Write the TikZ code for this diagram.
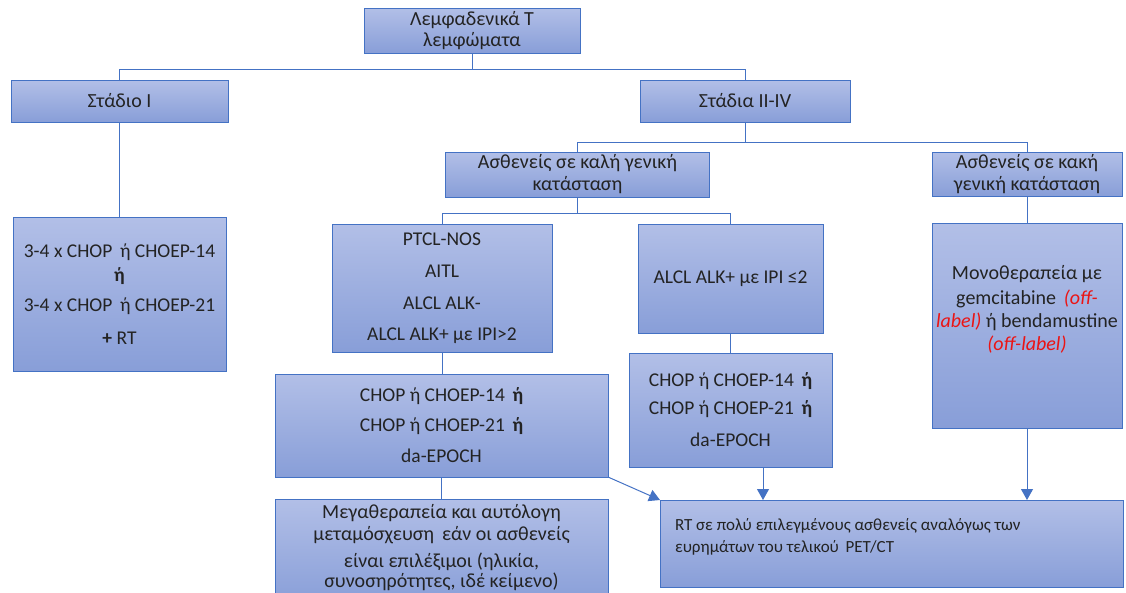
\documentclass[tikz,border=0pt]{standalone}
\usepackage{fontspec}
\setmainfont{Carlito}
\usetikzlibrary{calc,arrows.meta}
\definecolor{lineblue}{HTML}{4472C4}
\definecolor{boxtop}{RGB}{178,191,231}
\definecolor{boxbot}{RGB}{136,158,216}
\definecolor{ink}{RGB}{35,35,35}
\definecolor{offred}{RGB}{235,20,20}
\newcommand{\orb}{\textbf{ή}}
\newcommand{\offl}[1]{\textcolor{offred}{\textit{#1}}}
\newcommand{\wsp}{~\,}

\begin{document}
\begin{tikzpicture}[x=1pt,y=-1pt,
  box/.style={draw=lineblue, line width=0.9pt, top color=boxtop, bottom color=boxbot,
    text=ink, align=center, inner sep=0pt, outer sep=0pt},
  fa/.style={font=\fontsize{20}{22}\selectfont},
  fb/.style={font=\fontsize{19.5}{24}\selectfont},
  fs/.style={font=\fontsize{19.5}{22}\selectfont},
  link/.style={draw=lineblue, line width=1pt},
  arr/.style={link, -{Triangle[length=11pt,width=12pt]}},
]
\clip (0,0) rectangle (1126,592);

% boxes
\node[box,fa,minimum width=216pt,minimum height=45pt] (top) at (472,30.5)
  {Λεμφαδενικά Τ\\[-1pt]λεμφώματα};
\node[box,fa,minimum width=217pt,minimum height=42pt] (s1) at (119.5,101) {Στάδιο Ι};
\node[box,fa,minimum width=210pt,minimum height=42pt] (s2) at (745,101) {Στάδια ΙΙ-IV};
\node[box,fs,minimum width=213pt,minimum height=154pt] (st1) at (119.5,294)
  {3-4 x CHOP\, ή CHOEP-14\\[2pt] \orb\\[8pt] 3-4 x CHOP\, ή CHOEP-21\\[11pt] \textbf{+} RT};
\node[box,fa,minimum width=264pt,minimum height=45pt] (good) at (577.5,174.5)
  {Ασθενείς σε καλή γενική\\κατάσταση};
\node[box,fa,minimum width=190pt,minimum height=44pt] (bad) at (1027,174)
  {Ασθενείς σε κακή\\γενική κατάσταση};
\node[box,fb,minimum width=220pt,minimum height=128pt] (ptcl) at (442,288)
  {PTCL-NOS\\[8pt] AITL\\[8pt] ALCL ALK-\\[7pt] ALCL ALK+ με IPI>2};
\node[box,fb,minimum width=185pt,minimum height=109pt] (alcl) at (730.5,278.5)
  {ALCL ALK+ με IPI ≤2};
\node[box,fb,minimum width=203pt,minimum height=114pt] (chopR) at (730.5,410)
  {CHOP ή CHOEP-14\wsp\orb\\[4pt] CHOP ή CHOEP-21\wsp\orb\\[8pt] da-EPOCH};
\node[box,fb,minimum width=333pt,minimum height=103pt] (chopL) at (441.5,425.5)
  {CHOP ή CHOEP-14\wsp\orb\\[6pt] CHOP ή CHOEP-21\wsp\orb\\[7pt] da-EPOCH};
\node[box,font=\fontsize{20}{23}\selectfont,minimum width=190pt,minimum height=205pt] (mono) at (1027,325.5)
  {Μονοθεραπεία με\\[2pt] gemcitabine\wsp\offl{(off-}\\ \offl{label)} ή bendamustine\\ \offl{(off-label)}\\[12pt]};
\node[box,fa,minimum width=333pt,minimum height=106pt] (mega) at (441.5,552)
  {Μεγαθεραπεία και αυτόλογη\\ μεταμόσχευση\wsp εάν οι ασθενείς\\[5pt] είναι επιλέξιμοι (ηλικία,\\[-2pt] συνοσηρότητες, ιδέ κείμενο)\\[-9pt]};
\node[box,minimum width=463pt,minimum height=87pt] (rt) at (891.5,543.5)
  {\parbox[c][70pt][t]{433pt}{\raggedright\fontsize{17}{22}\selectfont
   \vspace*{10pt}RT σε πολύ επιλεγμένους ασθενείς αναλόγως των\\ ευρημάτων του τελικού\wsp PET/CT}};

% junctions of the tree
\coordinate (j1) at ($(top.south)+(0,16)$);
\coordinate (j2) at ($(s2.south)+(0,20)$);
\coordinate (j3) at ($(good.south)+(0,16)$);

% connectors
\draw[link] (top.south) -- (j1);
\draw[link] (j1) -| (s1.north);
\draw[link] (j1) -| (s2.north);
\draw[link] (s1.south) -- (st1.north);
\draw[link] (s2.south) -- (j2);
\draw[link] (j2) -| (good.north);
\draw[link] (j2) -| (bad.north);
\draw[link] (good.south) -- (j3);
\draw[link] (j3) -| (ptcl.north);
\draw[link] (j3) -| (alcl.north);
\draw[link] (ptcl.south) -- (ptcl.south |- chopL.north);
\draw[link] (alcl.south) -- (chopR.north);
\draw[link] (chopL.south) -- (mega.north);
\draw[link] (bad.south) -- (mono.north);
\draw[arr] (mono.south) -- (mono.south |- rt.north);
\draw[arr] ([xshift=32.5pt]chopR.south) -- ([xshift=32.5pt]chopR.south |- rt.north);
\draw[arr] (chopL.south east) -- (rt.north west);
\end{tikzpicture}
\end{document}
